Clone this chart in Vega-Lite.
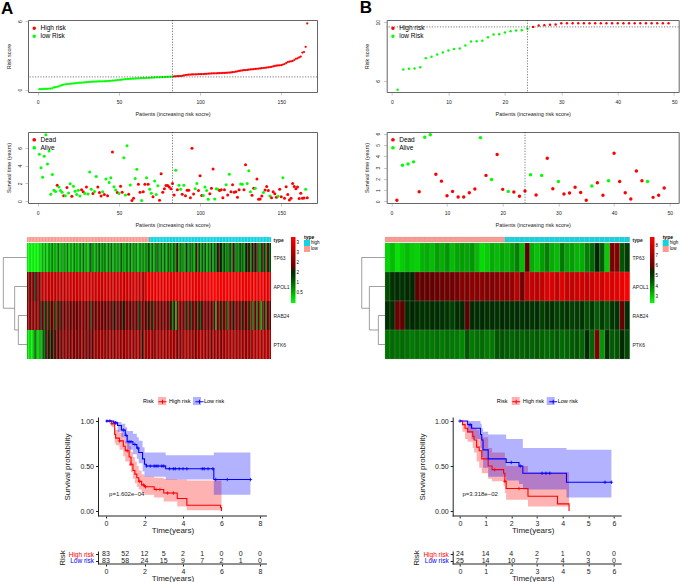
{"$schema":"https://vega.github.io/schema/vega-lite/v6.json","autosize":"none","padding":{"left":28,"top":20,"right":652,"bottom":562},"resolve":{"scale":{"color":"independent","fill":"independent","stroke":"independent"},"legend":{"color":"independent","fill":"independent","stroke":"independent"}},"config":{"font":"Liberation Sans","view":{"stroke":null},"axis":{"grid":false,"labelOverlap":false,"labelFont":"Liberation Sans","titleFont":"Liberation Sans","titleFontWeight":"normal","labelColor":"#222","titleColor":"#222"},"legend":{"labelFont":"Liberation Sans","titleFont":"Liberation Sans"}},
"datasets":{
"one":[{"v":1}],
"hA":[{"r":1.12}],
"hB":[{"r":9.68}],
"A":[
{"i":1,"r":0.05,"t":5.3,"s":"A","g":"L","TP63":0.1,"APOL1":2,"RAB24":2.2,"PTK6":0.3},{"i":2,"r":0.05,"t":3.77,"s":"A","g":"L","TP63":0.1,"APOL1":2.1,"RAB24":2.2,"PTK6":0.2},{"i":3,"r":0.06,"t":2.7,"s":"A","g":"L","TP63":0.1,"APOL1":2.1,"RAB24":2.2,"PTK6":0.2},{"i":4,"r":0.07,"t":5.07,"s":"A","g":"L","TP63":0.1,"APOL1":2,"RAB24":2.2,"PTK6":0.2},{"i":5,"r":0.07,"t":7.5,"s":"A","g":"L","TP63":0.1,"APOL1":2.1,"RAB24":2.2,"PTK6":0.3},{"i":6,"r":0.08,"t":4.2,"s":"A","g":"L","TP63":0.1,"APOL1":1.6,"RAB24":2.2,"PTK6":1.3},{"i":7,"r":0.09,"t":5.67,"s":"A","g":"L","TP63":0.1,"APOL1":2.2,"RAB24":2.2,"PTK6":0.4},{"i":8,"r":0.1,"t":0.8,"s":"A","g":"L","TP63":0.1,"APOL1":1.7,"RAB24":2.1,"PTK6":0.5},
{"i":9,"r":0.12,"t":3,"s":"A","g":"L","TP63":0.2,"APOL1":2.2,"RAB24":2.2,"PTK6":0.4},{"i":10,"r":0.2,"t":1.23,"s":"A","g":"L","TP63":0.3,"APOL1":2.3,"RAB24":1.6,"PTK6":0.7},{"i":11,"r":0.22,"t":1.1,"s":"A","g":"L","TP63":0.5,"APOL1":2.7,"RAB24":1.8,"PTK6":0.6},{"i":12,"r":0.25,"t":1.8,"s":"D","g":"L","TP63":0.4,"APOL1":2.8,"RAB24":1.9,"PTK6":1.5},{"i":13,"r":0.3,"t":1.6,"s":"A","g":"L","TP63":0.6,"APOL1":2.7,"RAB24":1.3,"PTK6":1.2},{"i":14,"r":0.35,"t":1.2,"s":"A","g":"L","TP63":0.3,"APOL1":2.8,"RAB24":1.8,"PTK6":1.7},{"i":15,"r":0.4,"t":1,"s":"A","g":"L","TP63":0.5,"APOL1":2.7,"RAB24":1.2,"PTK6":1.5},{"i":16,"r":0.45,"t":0.63,"s":"D","g":"L","TP63":0.7,"APOL1":2.6,"RAB24":1.9,"PTK6":1.9},
{"i":17,"r":0.47,"t":0.63,"s":"A","g":"L","TP63":0.6,"APOL1":2.8,"RAB24":1.7,"PTK6":1.6},{"i":18,"r":0.49,"t":1.55,"s":"D","g":"L","TP63":0.8,"APOL1":2.7,"RAB24":1.9,"PTK6":1.8},{"i":19,"r":0.5,"t":0.93,"s":"A","g":"L","TP63":0.6,"APOL1":2.8,"RAB24":1.9,"PTK6":1.5},{"i":20,"r":0.52,"t":1.97,"s":"A","g":"L","TP63":0.5,"APOL1":2.7,"RAB24":1,"PTK6":1.9},{"i":21,"r":0.54,"t":0.56,"s":"D","g":"L","TP63":0.7,"APOL1":2.6,"RAB24":1.8,"PTK6":2},{"i":22,"r":0.55,"t":1.7,"s":"A","g":"L","TP63":0.9,"APOL1":2.8,"RAB24":1.9,"PTK6":1.7},{"i":23,"r":0.56,"t":1.12,"s":"A","g":"L","TP63":0.6,"APOL1":2.6,"RAB24":1.6,"PTK6":1.9},{"i":24,"r":0.58,"t":0.75,"s":"A","g":"L","TP63":0.5,"APOL1":2.7,"RAB24":1.9,"PTK6":2.1},
{"i":25,"r":0.6,"t":1.23,"s":"A","g":"L","TP63":0.8,"APOL1":2.8,"RAB24":2,"PTK6":1.9},{"i":26,"r":0.61,"t":0.6,"s":"A","g":"L","TP63":0.6,"APOL1":2.6,"RAB24":1.8,"PTK6":2.3},{"i":27,"r":0.62,"t":1.3,"s":"D","g":"L","TP63":0.7,"APOL1":2.7,"RAB24":1.9,"PTK6":2},{"i":28,"r":0.63,"t":1.08,"s":"D","g":"L","TP63":0.9,"APOL1":2.8,"RAB24":2.1,"PTK6":2.2},{"i":29,"r":0.64,"t":0.86,"s":"A","g":"L","TP63":0.5,"APOL1":2.7,"RAB24":1.9,"PTK6":2},{"i":30,"r":0.66,"t":1.6,"s":"D","g":"L","TP63":0.6,"APOL1":2.8,"RAB24":1.7,"PTK6":1.9},{"i":31,"r":0.67,"t":0.82,"s":"A","g":"L","TP63":0.7,"APOL1":2.9,"RAB24":2,"PTK6":2.4},{"i":32,"r":0.68,"t":3.3,"s":"A","g":"L","TP63":0.5,"APOL1":2.7,"RAB24":1.9,"PTK6":2},
{"i":33,"r":0.69,"t":1.35,"s":"A","g":"L","TP63":0.9,"APOL1":2.8,"RAB24":2,"PTK6":1.9},{"i":34,"r":0.7,"t":0.86,"s":"D","g":"L","TP63":0.6,"APOL1":2.9,"RAB24":1.8,"PTK6":2.3},{"i":35,"r":0.7,"t":1.1,"s":"A","g":"L","TP63":0.5,"APOL1":2.8,"RAB24":2,"PTK6":2},{"i":36,"r":0.71,"t":2.8,"s":"A","g":"L","TP63":0.7,"APOL1":2.7,"RAB24":1.9,"PTK6":1.9},{"i":37,"r":0.72,"t":1.6,"s":"D","g":"L","TP63":0.8,"APOL1":2.9,"RAB24":2.1,"PTK6":2.1},{"i":38,"r":0.72,"t":0.97,"s":"D","g":"L","TP63":0.6,"APOL1":2.8,"RAB24":2.2,"PTK6":2.4},{"i":39,"r":0.73,"t":0.6,"s":"D","g":"L","TP63":1,"APOL1":2.7,"RAB24":2,"PTK6":2},{"i":40,"r":0.73,"t":1.08,"s":"A","g":"L","TP63":0.7,"APOL1":2.9,"RAB24":1.8,"PTK6":1.9},
{"i":41,"r":0.74,"t":0.75,"s":"D","g":"L","TP63":0.6,"APOL1":2.8,"RAB24":1.9,"PTK6":2.2},{"i":42,"r":0.75,"t":2.5,"s":"A","g":"L","TP63":0.5,"APOL1":2.9,"RAB24":2.1,"PTK6":1.8},{"i":43,"r":0.76,"t":0.63,"s":"D","g":"L","TP63":0.7,"APOL1":2.7,"RAB24":2,"PTK6":2},{"i":44,"r":0.77,"t":2.1,"s":"A","g":"L","TP63":1.5,"APOL1":2.8,"RAB24":1.3,"PTK6":1.9},{"i":45,"r":0.78,"t":2.65,"s":"A","g":"L","TP63":0.6,"APOL1":2.9,"RAB24":1.9,"PTK6":1.7},{"i":46,"r":0.79,"t":5.55,"s":"D","g":"L","TP63":0.8,"APOL1":2.7,"RAB24":2,"PTK6":2.1},{"i":47,"r":0.8,"t":1.64,"s":"A","g":"L","TP63":0.5,"APOL1":2.8,"RAB24":1.8,"PTK6":2.4},{"i":48,"r":0.82,"t":1.27,"s":"A","g":"L","TP63":0.9,"APOL1":2.9,"RAB24":1.9,"PTK6":2.2},
{"i":49,"r":0.84,"t":0.97,"s":"D","g":"L","TP63":0.7,"APOL1":2.8,"RAB24":2.1,"PTK6":2.3},{"i":50,"r":0.85,"t":0.86,"s":"A","g":"L","TP63":1.1,"APOL1":2.9,"RAB24":1.9,"PTK6":2.4},{"i":51,"r":0.87,"t":1.7,"s":"D","g":"L","TP63":0.6,"APOL1":2.7,"RAB24":2,"PTK6":2.5},{"i":52,"r":0.89,"t":1,"s":"D","g":"L","TP63":0.8,"APOL1":2.8,"RAB24":1.8,"PTK6":2.3},{"i":53,"r":0.91,"t":4.9,"s":"A","g":"L","TP63":1,"APOL1":2.9,"RAB24":1.9,"PTK6":2.2},{"i":54,"r":0.92,"t":0.7,"s":"A","g":"L","TP63":0.7,"APOL1":2.8,"RAB24":1.7,"PTK6":2.4},{"i":55,"r":0.93,"t":6.25,"s":"A","g":"L","TP63":0.6,"APOL1":2.9,"RAB24":2,"PTK6":2.1},{"i":56,"r":0.94,"t":0.78,"s":"D","g":"L","TP63":0.9,"APOL1":2.7,"RAB24":1.8,"PTK6":2.3},
{"i":57,"r":0.95,"t":1.83,"s":"A","g":"L","TP63":0.8,"APOL1":2.9,"RAB24":1.7,"PTK6":2.5},{"i":58,"r":0.96,"t":0.07,"s":"D","g":"L","TP63":1,"APOL1":2.8,"RAB24":1.9,"PTK6":2.2},{"i":59,"r":0.97,"t":0.33,"s":"D","g":"L","TP63":0.6,"APOL1":2.9,"RAB24":1.8,"PTK6":2.4},{"i":60,"r":0.98,"t":2.57,"s":"A","g":"L","TP63":0.7,"APOL1":2.7,"RAB24":1.6,"PTK6":2},{"i":61,"r":0.99,"t":3.6,"s":"A","g":"L","TP63":0.9,"APOL1":2.8,"RAB24":1.9,"PTK6":2.3},{"i":62,"r":1,"t":1.9,"s":"D","g":"L","TP63":0.6,"APOL1":2.9,"RAB24":2,"PTK6":2.5},{"i":63,"r":1,"t":1,"s":"D","g":"L","TP63":0.8,"APOL1":2.8,"RAB24":1.8,"PTK6":2.4},{"i":64,"r":1.01,"t":0.07,"s":"A","g":"L","TP63":0.7,"APOL1":2.9,"RAB24":1.7,"PTK6":2.2},
{"i":65,"r":1.02,"t":1.08,"s":"D","g":"L","TP63":1.3,"APOL1":2.8,"RAB24":1.8,"PTK6":2.5},{"i":66,"r":1.02,"t":1.9,"s":"D","g":"L","TP63":0.6,"APOL1":2.9,"RAB24":1.6,"PTK6":2.3},{"i":67,"r":1.03,"t":2.65,"s":"A","g":"L","TP63":0.5,"APOL1":2.7,"RAB24":1.7,"PTK6":2.1},{"i":68,"r":1.04,"t":1.9,"s":"D","g":"L","TP63":1,"APOL1":2.9,"RAB24":1.9,"PTK6":2.4},{"i":69,"r":1.04,"t":1.35,"s":"A","g":"L","TP63":0.8,"APOL1":2.8,"RAB24":2,"PTK6":2.6},{"i":70,"r":1.05,"t":0.9,"s":"A","g":"L","TP63":0.7,"APOL1":2.9,"RAB24":1.8,"PTK6":2.2},{"i":71,"r":1.06,"t":0.5,"s":"D","g":"L","TP63":1.1,"APOL1":2.8,"RAB24":1.7,"PTK6":2.4},{"i":72,"r":1.07,"t":2.28,"s":"A","g":"L","TP63":0.6,"APOL1":2.7,"RAB24":1.9,"PTK6":2.5},
{"i":73,"r":1.08,"t":0.75,"s":"A","g":"L","TP63":0.7,"APOL1":2.9,"RAB24":2,"PTK6":2.3},{"i":74,"r":1.09,"t":1.75,"s":"A","g":"L","TP63":0.9,"APOL1":2.8,"RAB24":1.8,"PTK6":2.1},{"i":75,"r":1.09,"t":0.1,"s":"D","g":"L","TP63":0.8,"APOL1":2.9,"RAB24":1.9,"PTK6":2.4},{"i":76,"r":1.1,"t":3.1,"s":"D","g":"L","TP63":0.5,"APOL1":2.8,"RAB24":1.7,"PTK6":2.6},{"i":77,"r":1.1,"t":1,"s":"D","g":"L","TP63":0.7,"APOL1":2.7,"RAB24":1.3,"PTK6":2.2},{"i":78,"r":1.11,"t":1.4,"s":"D","g":"L","TP63":1,"APOL1":2.9,"RAB24":1.8,"PTK6":2.4},{"i":79,"r":1.12,"t":1.78,"s":"D","g":"L","TP63":0.6,"APOL1":2.8,"RAB24":1.9,"PTK6":1.6},{"i":80,"r":1.12,"t":1.78,"s":"D","g":"L","TP63":0.9,"APOL1":1.9,"RAB24":2,"PTK6":2.3},
{"i":81,"r":1.13,"t":1.6,"s":"D","g":"L","TP63":0.7,"APOL1":3,"RAB24":1.7,"PTK6":2.5},{"i":82,"r":1.14,"t":1.4,"s":"D","g":"L","TP63":0.8,"APOL1":3,"RAB24":1.9,"PTK6":2.2},{"i":83,"r":1.15,"t":2,"s":"D","g":"L","TP63":1.2,"APOL1":3.1,"RAB24":1.5,"PTK6":2.4},{"i":84,"r":1.16,"t":0.7,"s":"D","g":"H","TP63":0.9,"APOL1":3,"RAB24":2,"PTK6":2.5},{"i":85,"r":1.17,"t":3.5,"s":"A","g":"H","TP63":0.7,"APOL1":3.1,"RAB24":1.8,"PTK6":2.6},{"i":86,"r":1.18,"t":1.3,"s":"D","g":"H","TP63":1,"APOL1":3,"RAB24":1.3,"PTK6":2.3},{"i":87,"r":1.19,"t":1.8,"s":"A","g":"H","TP63":0.6,"APOL1":3.1,"RAB24":1.9,"PTK6":1.7},{"i":88,"r":1.2,"t":1.35,"s":"A","g":"H","TP63":0.8,"APOL1":3,"RAB24":2.1,"PTK6":2.6},
{"i":89,"r":1.22,"t":0.8,"s":"D","g":"H","TP63":1.3,"APOL1":3.1,"RAB24":2,"PTK6":2.4},{"i":90,"r":1.25,"t":1.8,"s":"A","g":"H","TP63":0.7,"APOL1":3,"RAB24":1.9,"PTK6":2.5},{"i":91,"r":1.28,"t":0.63,"s":"D","g":"H","TP63":0.9,"APOL1":3.1,"RAB24":2,"PTK6":2.3},{"i":92,"r":1.3,"t":1.25,"s":"D","g":"H","TP63":1,"APOL1":3,"RAB24":1.8,"PTK6":2.4},{"i":93,"r":1.32,"t":1.25,"s":"D","g":"H","TP63":0.6,"APOL1":3.1,"RAB24":2,"PTK6":2.6},{"i":94,"r":1.33,"t":0.4,"s":"D","g":"H","TP63":1.1,"APOL1":3,"RAB24":1.9,"PTK6":2.2},{"i":95,"r":1.34,"t":5.97,"s":"D","g":"H","TP63":0.8,"APOL1":3.1,"RAB24":2.1,"PTK6":2.5},{"i":96,"r":1.34,"t":0.82,"s":"D","g":"H","TP63":0.7,"APOL1":3,"RAB24":1.9,"PTK6":2.3},
{"i":97,"r":1.35,"t":1.4,"s":"A","g":"H","TP63":1.2,"APOL1":3.1,"RAB24":1.7,"PTK6":2.5},{"i":98,"r":1.35,"t":2,"s":"A","g":"H","TP63":0.9,"APOL1":3,"RAB24":1.8,"PTK6":2.4},{"i":99,"r":1.36,"t":1.2,"s":"D","g":"H","TP63":0.6,"APOL1":2.9,"RAB24":1.4,"PTK6":2.6},{"i":100,"r":1.36,"t":2.87,"s":"D","g":"H","TP63":1,"APOL1":3,"RAB24":1,"PTK6":2.3},{"i":101,"r":1.37,"t":0.65,"s":"D","g":"H","TP63":0.8,"APOL1":3.1,"RAB24":1.7,"PTK6":2.5},{"i":102,"r":1.37,"t":0.65,"s":"A","g":"H","TP63":1.2,"APOL1":3,"RAB24":0.5,"PTK6":2.4},{"i":103,"r":1.38,"t":1.6,"s":"A","g":"H","TP63":1.7,"APOL1":3.1,"RAB24":1.9,"PTK6":1.7},{"i":104,"r":1.39,"t":1.2,"s":"A","g":"H","TP63":0.7,"APOL1":2.9,"RAB24":2.1,"PTK6":2.4},
{"i":105,"r":1.4,"t":0.22,"s":"A","g":"H","TP63":0.9,"APOL1":3,"RAB24":2,"PTK6":2.3},{"i":106,"r":1.41,"t":0.85,"s":"D","g":"H","TP63":1.1,"APOL1":3.1,"RAB24":1.9,"PTK6":2},{"i":107,"r":1.42,"t":1.45,"s":"D","g":"H","TP63":0.6,"APOL1":3,"RAB24":2.1,"PTK6":2.5},{"i":108,"r":1.43,"t":3.62,"s":"D","g":"H","TP63":0.8,"APOL1":3.1,"RAB24":1.8,"PTK6":2.3},{"i":109,"r":1.43,"t":0.25,"s":"A","g":"H","TP63":1.4,"APOL1":3,"RAB24":1.3,"PTK6":2.6},{"i":110,"r":1.44,"t":1.4,"s":"A","g":"H","TP63":1,"APOL1":3.1,"RAB24":1.9,"PTK6":2.4},{"i":111,"r":1.45,"t":1.35,"s":"A","g":"H","TP63":0.7,"APOL1":3,"RAB24":2,"PTK6":2.5},{"i":112,"r":1.45,"t":1.2,"s":"D","g":"H","TP63":1.2,"APOL1":3.1,"RAB24":1.5,"PTK6":2.2},
{"i":113,"r":1.46,"t":1.3,"s":"D","g":"H","TP63":0.9,"APOL1":3,"RAB24":1.9,"PTK6":2.4},{"i":114,"r":1.47,"t":0.4,"s":"D","g":"H","TP63":0.6,"APOL1":3.1,"RAB24":1.7,"PTK6":2.5},{"i":115,"r":1.47,"t":1.3,"s":"D","g":"H","TP63":1,"APOL1":3,"RAB24":2,"PTK6":1.8},{"i":116,"r":1.48,"t":1.85,"s":"A","g":"H","TP63":1.7,"APOL1":3.1,"RAB24":1.8,"PTK6":2.4},{"i":117,"r":1.49,"t":0.7,"s":"D","g":"H","TP63":0.8,"APOL1":3,"RAB24":1.2,"PTK6":2.3},{"i":118,"r":1.5,"t":3.05,"s":"A","g":"H","TP63":1.3,"APOL1":3.1,"RAB24":1.9,"PTK6":2.5},{"i":119,"r":1.51,"t":1.08,"s":"D","g":"H","TP63":0.7,"APOL1":3,"RAB24":1.6,"PTK6":2.6},{"i":120,"r":1.53,"t":1.85,"s":"D","g":"H","TP63":1.1,"APOL1":3.1,"RAB24":2,"PTK6":2.4},
{"i":121,"r":1.55,"t":1,"s":"D","g":"H","TP63":0.9,"APOL1":3,"RAB24":1.9,"PTK6":2.5},{"i":122,"r":1.58,"t":1.08,"s":"D","g":"H","TP63":1.2,"APOL1":3.1,"RAB24":2.1,"PTK6":2.2},{"i":123,"r":1.61,"t":0.44,"s":"D","g":"H","TP63":0.6,"APOL1":3,"RAB24":1.8,"PTK6":2.5},{"i":124,"r":1.64,"t":1.3,"s":"D","g":"H","TP63":1,"APOL1":3.2,"RAB24":1.9,"PTK6":2.3},{"i":125,"r":1.67,"t":1.95,"s":"A","g":"H","TP63":0.8,"APOL1":3.1,"RAB24":2,"PTK6":2.4},{"i":126,"r":1.69,"t":1.9,"s":"A","g":"H","TP63":1.3,"APOL1":3.2,"RAB24":1.7,"PTK6":1.8},{"i":127,"r":1.71,"t":1.3,"s":"D","g":"H","TP63":0.7,"APOL1":3.1,"RAB24":1.8,"PTK6":2.4},{"i":128,"r":1.72,"t":4.1,"s":"D","g":"H","TP63":1.1,"APOL1":3.3,"RAB24":1.9,"PTK6":2.3},
{"i":129,"r":1.73,"t":2,"s":"A","g":"H","TP63":0.9,"APOL1":3.2,"RAB24":0.6,"PTK6":2.5},{"i":130,"r":1.75,"t":3.43,"s":"A","g":"H","TP63":1.6,"APOL1":3.3,"RAB24":1.9,"PTK6":2.2},{"i":131,"r":1.77,"t":1.08,"s":"A","g":"H","TP63":1.7,"APOL1":3.1,"RAB24":2,"PTK6":2.4},{"i":132,"r":1.78,"t":0.67,"s":"D","g":"H","TP63":1.6,"APOL1":3.2,"RAB24":1.8,"PTK6":2.5},{"i":133,"r":1.8,"t":1.47,"s":"D","g":"H","TP63":1.4,"APOL1":3.3,"RAB24":1.2,"PTK6":1.8},{"i":134,"r":1.82,"t":1.45,"s":"A","g":"H","TP63":0.9,"APOL1":3.1,"RAB24":1.9,"PTK6":2.5},{"i":135,"r":1.83,"t":2.5,"s":"D","g":"H","TP63":1.2,"APOL1":3.2,"RAB24":2,"PTK6":2.3},{"i":136,"r":1.85,"t":0.22,"s":"D","g":"H","TP63":1,"APOL1":3.1,"RAB24":1.8,"PTK6":2.4},
{"i":137,"r":1.86,"t":0.26,"s":"D","g":"H","TP63":0.7,"APOL1":3.2,"RAB24":0.8,"PTK6":2.6},{"i":138,"r":1.88,"t":0.6,"s":"D","g":"H","TP63":1.3,"APOL1":3.1,"RAB24":1.9,"PTK6":2.3},{"i":139,"r":1.9,"t":0.97,"s":"A","g":"H","TP63":1.1,"APOL1":3,"RAB24":2,"PTK6":2.5},{"i":140,"r":1.92,"t":1.27,"s":"D","g":"H","TP63":0.9,"APOL1":3.2,"RAB24":1.9,"PTK6":2.4},{"i":141,"r":1.94,"t":1.67,"s":"D","g":"H","TP63":1.7,"APOL1":3.1,"RAB24":1.5,"PTK6":2.6},{"i":142,"r":1.96,"t":1.2,"s":"D","g":"H","TP63":1.3,"APOL1":3,"RAB24":1.9,"PTK6":2.3},{"i":143,"r":1.98,"t":0.6,"s":"A","g":"H","TP63":0.7,"APOL1":3.2,"RAB24":2.1,"PTK6":2.5},{"i":144,"r":2,"t":0.4,"s":"D","g":"H","TP63":1.1,"APOL1":3.1,"RAB24":1.8,"PTK6":2.2},
{"i":145,"r":2.04,"t":1.08,"s":"D","g":"H","TP63":0.9,"APOL1":3,"RAB24":2,"PTK6":2.5},{"i":146,"r":2.08,"t":0.85,"s":"D","g":"H","TP63":1.4,"APOL1":3.2,"RAB24":1.9,"PTK6":2.4},{"i":147,"r":2.1,"t":0.45,"s":"D","g":"H","TP63":1,"APOL1":3.1,"RAB24":1.4,"PTK6":2.3},{"i":148,"r":2.12,"t":0.56,"s":"A","g":"H","TP63":0.8,"APOL1":3,"RAB24":2,"PTK6":2.5},{"i":149,"r":2.13,"t":1.35,"s":"D","g":"H","TP63":1.2,"APOL1":3.2,"RAB24":1.8,"PTK6":2.4},{"i":150,"r":2.15,"t":0.5,"s":"D","g":"H","TP63":1.6,"APOL1":3.1,"RAB24":1.9,"PTK6":2.2},{"i":151,"r":2.2,"t":2.65,"s":"A","g":"H","TP63":1.7,"APOL1":3,"RAB24":2,"PTK6":2.5},{"i":152,"r":2.25,"t":0.33,"s":"D","g":"H","TP63":1.4,"APOL1":3.2,"RAB24":1.3,"PTK6":2.4},
{"i":153,"r":2.33,"t":1.64,"s":"D","g":"H","TP63":0.9,"APOL1":3.1,"RAB24":1.9,"PTK6":2},{"i":154,"r":2.42,"t":0.75,"s":"D","g":"H","TP63":1.6,"APOL1":3,"RAB24":0.7,"PTK6":2.6},{"i":155,"r":2.45,"t":0.15,"s":"D","g":"H","TP63":1.8,"APOL1":3.2,"RAB24":2,"PTK6":2.5},{"i":156,"r":2.48,"t":0.33,"s":"D","g":"H","TP63":1.5,"APOL1":3.1,"RAB24":1.8,"PTK6":2.5},{"i":157,"r":2.52,"t":2,"s":"D","g":"H","TP63":1.7,"APOL1":3,"RAB24":1,"PTK6":2.6},{"i":158,"r":2.6,"t":1.67,"s":"D","g":"H","TP63":0.8,"APOL1":3.1,"RAB24":1.9,"PTK6":2.5},{"i":159,"r":2.7,"t":1.4,"s":"D","g":"H","TP63":1,"APOL1":3,"RAB24":2,"PTK6":2.6},{"i":160,"r":2.75,"t":1.6,"s":"D","g":"H","TP63":1.2,"APOL1":3.2,"RAB24":0.4,"PTK6":2.5},
{"i":161,"r":2.82,"t":0.3,"s":"D","g":"H","TP63":1.7,"APOL1":3.1,"RAB24":1.7,"PTK6":2.5},{"i":162,"r":2.9,"t":0.9,"s":"D","g":"H","TP63":1.3,"APOL1":3,"RAB24":1.9,"PTK6":2.6},{"i":163,"r":3.25,"t":0.33,"s":"D","g":"H","TP63":0.9,"APOL1":3.1,"RAB24":0.9,"PTK6":2.5},{"i":164,"r":3.3,"t":0.37,"s":"D","g":"H","TP63":2,"APOL1":3,"RAB24":1.8,"PTK6":2.6},{"i":165,"r":3.75,"t":1.35,"s":"A","g":"H","TP63":1.6,"APOL1":3.1,"RAB24":1.9,"PTK6":2.5},{"i":166,"r":5.8,"t":0.4,"s":"D","g":"H","TP63":1.2,"APOL1":3,"RAB24":1.7,"PTK6":2.6}],
"B":[
{"i":1,"r":5.39,"t":0.09,"s":"D","g":"L","TP63":2.9,"APOL1":4.7,"RAB24":5.3,"PTK6":4.2},{"i":2,"r":6.77,"t":3.2,"s":"A","g":"L","TP63":3.2,"APOL1":5.2,"RAB24":5.3,"PTK6":4.3},{"i":3,"r":6.82,"t":3.32,"s":"A","g":"L","TP63":2.7,"APOL1":5.3,"RAB24":6.1,"PTK6":4.2},{"i":4,"r":6.84,"t":3.5,"s":"A","g":"L","TP63":3,"APOL1":5.2,"RAB24":5.8,"PTK6":4.3},{"i":5,"r":6.93,"t":0.85,"s":"D","g":"L","TP63":3.2,"APOL1":5.4,"RAB24":5.3,"PTK6":4.2},{"i":6,"r":7.55,"t":5.68,"s":"A","g":"L","TP63":3,"APOL1":5.5,"RAB24":5.5,"PTK6":4.1},{"i":7,"r":7.64,"t":5.9,"s":"A","g":"L","TP63":2.9,"APOL1":5.8,"RAB24":5.3,"PTK6":4.2},
{"i":8,"r":7.8,"t":2.41,"s":"D","g":"L","TP63":3.3,"APOL1":5.9,"RAB24":5.2,"PTK6":4.1},{"i":9,"r":7.93,"t":1.79,"s":"D","g":"L","TP63":3.4,"APOL1":5.9,"RAB24":5.2,"PTK6":4.2},{"i":10,"r":8.07,"t":0.5,"s":"D","g":"L","TP63":3.2,"APOL1":5.9,"RAB24":5.3,"PTK6":4.1},{"i":11,"r":8.18,"t":0.88,"s":"D","g":"L","TP63":3.6,"APOL1":6,"RAB24":5.3,"PTK6":4.2},{"i":12,"r":8.2,"t":0.38,"s":"D","g":"L","TP63":3.4,"APOL1":6.1,"RAB24":5.2,"PTK6":4.1},{"i":13,"r":8.41,"t":0.38,"s":"D","g":"L","TP63":3.7,"APOL1":6.1,"RAB24":5.1,"PTK6":4.2},{"i":14,"r":8.68,"t":0.76,"s":"D","g":"L","TP63":3.2,"APOL1":6.2,"RAB24":4.9,"PTK6":4.1},
{"i":15,"r":8.7,"t":1.09,"s":"D","g":"L","TP63":3.5,"APOL1":6.3,"RAB24":5.3,"PTK6":4.1},{"i":16,"r":8.73,"t":5.65,"s":"A","g":"L","TP63":3.6,"APOL1":6.6,"RAB24":5.4,"PTK6":3.9},{"i":17,"r":8.98,"t":2.3,"s":"D","g":"L","TP63":3.5,"APOL1":6.5,"RAB24":5.7,"PTK6":4.6},{"i":18,"r":9.16,"t":1.94,"s":"A","g":"L","TP63":3.7,"APOL1":6.7,"RAB24":5.4,"PTK6":4.1},{"i":19,"r":9.18,"t":4.15,"s":"D","g":"L","TP63":3.2,"APOL1":6.7,"RAB24":5.3,"PTK6":4.2},{"i":20,"r":9.3,"t":1.06,"s":"D","g":"L","TP63":2.8,"APOL1":6.7,"RAB24":5.4,"PTK6":4.3},{"i":21,"r":9.39,"t":0.88,"s":"A","g":"L","TP63":3,"APOL1":6.6,"RAB24":5.2,"PTK6":4.1},
{"i":22,"r":9.43,"t":0.82,"s":"D","g":"L","TP63":3.4,"APOL1":6.5,"RAB24":5.3,"PTK6":4.1},{"i":23,"r":9.45,"t":0.44,"s":"D","g":"L","TP63":3.2,"APOL1":6.7,"RAB24":5.2,"PTK6":4.6},{"i":24,"r":9.55,"t":0.91,"s":"D","g":"L","TP63":3.5,"APOL1":6.8,"RAB24":5.4,"PTK6":4.6},{"i":25,"r":9.68,"t":2.35,"s":"A","g":"H","TP63":3.3,"APOL1":6.8,"RAB24":5.3,"PTK6":4.5},{"i":26,"r":9.77,"t":0.56,"s":"D","g":"H","TP63":3.6,"APOL1":7,"RAB24":5.2,"PTK6":4.4},{"i":27,"r":9.8,"t":2.3,"s":"A","g":"H","TP63":4,"APOL1":7.6,"RAB24":5.3,"PTK6":4.5},{"i":28,"r":9.82,"t":3.82,"s":"D","g":"H","TP63":3.2,"APOL1":6.2,"RAB24":5.2,"PTK6":4.4},
{"i":29,"r":9.84,"t":1.12,"s":"D","g":"H","TP63":5.6,"APOL1":7.8,"RAB24":5.3,"PTK6":4.5},{"i":30,"r":9.93,"t":1.76,"s":"A","g":"H","TP63":3.4,"APOL1":7.8,"RAB24":5.1,"PTK6":4.4},{"i":31,"r":9.93,"t":0.65,"s":"D","g":"H","TP63":3.1,"APOL1":7.7,"RAB24":5.3,"PTK6":4.5},{"i":32,"r":9.93,"t":0.74,"s":"D","g":"H","TP63":3.6,"APOL1":7.8,"RAB24":4.9,"PTK6":4.4},{"i":33,"r":9.93,"t":1.24,"s":"D","g":"H","TP63":4,"APOL1":8.3,"RAB24":5.1,"PTK6":4.3},{"i":34,"r":9.93,"t":0.79,"s":"D","g":"H","TP63":3.4,"APOL1":8.2,"RAB24":5.2,"PTK6":4.4},{"i":35,"r":9.93,"t":0.09,"s":"D","g":"H","TP63":3.2,"APOL1":7.9,"RAB24":4.9,"PTK6":4.5},
{"i":36,"r":9.93,"t":1.35,"s":"A","g":"H","TP63":4.1,"APOL1":8.3,"RAB24":5,"PTK6":4.3},{"i":37,"r":9.93,"t":1.65,"s":"D","g":"H","TP63":3.5,"APOL1":7.9,"RAB24":5.1,"PTK6":4.4},{"i":38,"r":9.93,"t":0.53,"s":"D","g":"H","TP63":3.6,"APOL1":7.8,"RAB24":4.9,"PTK6":4.5},{"i":39,"r":9.93,"t":1.82,"s":"A","g":"H","TP63":3.3,"APOL1":8,"RAB24":5,"PTK6":4.6},{"i":40,"r":9.93,"t":4.26,"s":"D","g":"H","TP63":3.4,"APOL1":8,"RAB24":5.1,"PTK6":4.4},{"i":41,"r":9.93,"t":1.76,"s":"D","g":"H","TP63":4,"APOL1":7.9,"RAB24":4.7,"PTK6":5.4},{"i":42,"r":9.93,"t":0.76,"s":"D","g":"H","TP63":4.3,"APOL1":8,"RAB24":5,"PTK6":4.4},
{"i":43,"r":9.93,"t":0.2,"s":"D","g":"H","TP63":5.5,"APOL1":8.3,"RAB24":4.5,"PTK6":6.4},{"i":44,"r":9.93,"t":2.68,"s":"D","g":"H","TP63":4.5,"APOL1":8,"RAB24":5,"PTK6":3.7},{"i":45,"r":9.93,"t":1.82,"s":"D","g":"H","TP63":3,"APOL1":8.5,"RAB24":4.6,"PTK6":5.3},{"i":46,"r":9.93,"t":1.76,"s":"A","g":"H","TP63":6.4,"APOL1":8.2,"RAB24":5.1,"PTK6":4.5},{"i":47,"r":9.93,"t":0.35,"s":"D","g":"H","TP63":6.6,"APOL1":8.4,"RAB24":5.2,"PTK6":4.6},{"i":48,"r":9.93,"t":0.53,"s":"D","g":"H","TP63":4.6,"APOL1":8.5,"RAB24":5.9,"PTK6":5.4},{"i":49,"r":9.93,"t":1.18,"s":"D","g":"H","TP63":5,"APOL1":8.85,"RAB24":5.3,"PTK6":4.8}],
"kmA":[
{"Risk":"High risk","t":0,"S":1,"lo":1,"hi":1},{"Risk":"High risk","t":0.3,"S":0.97,"lo":0.93,"hi":1},{"Risk":"High risk","t":0.45,"S":0.85,"lo":0.76,"hi":0.92},{"Risk":"High risk","t":0.5,"S":0.81,"lo":0.73,"hi":0.9},{"Risk":"High risk","t":0.7,"S":0.78,"lo":0.68,"hi":0.87},{"Risk":"High risk","t":0.9,"S":0.72,"lo":0.61,"hi":0.82},{"Risk":"High risk","t":1,"S":0.67,"lo":0.55,"hi":0.78},{"Risk":"High risk","t":1.2,"S":0.6,"lo":0.5,"hi":0.72},{"Risk":"High risk","t":1.3,"S":0.52,"lo":0.43,"hi":0.66},{"Risk":"High risk","t":1.4,"S":0.45,"lo":0.36,"hi":0.6},{"Risk":"High risk","t":1.5,"S":0.41,"lo":0.31,"hi":0.55},{"Risk":"High risk","t":1.6,"S":0.37,"lo":0.27,"hi":0.5},{"Risk":"High risk","t":1.7,"S":0.33,"lo":0.24,"hi":0.45},{"Risk":"High risk","t":1.85,"S":0.29,"lo":0.2,"hi":0.41},{"Risk":"High risk","t":2,"S":0.27,"lo":0.18,"hi":0.385},{"Risk":"High risk","t":2.5,"S":0.24,"lo":0.15,"hi":0.37},{"Risk":"High risk","t":3,"S":0.2,"lo":0.105,"hi":0.355},{"Risk":"High risk","t":3.7,"S":0.14,"lo":0.05,"hi":0.35},{"Risk":"High risk","t":4.2,"S":0.065,"lo":0.01,"hi":0.34},{"Risk":"High risk","t":5.95,"S":0.04,"lo":0.005,"hi":0.34},{"Risk":"High risk","t":6,"S":0,"lo":0,"hi":0.34},
{"Risk":"Low risk","t":0,"S":1,"lo":1,"hi":1},{"Risk":"Low risk","t":0.4,"S":0.98,"lo":0.96,"hi":1},{"Risk":"Low risk","t":0.6,"S":0.95,"lo":0.88,"hi":0.99},{"Risk":"Low risk","t":0.8,"S":0.9,"lo":0.82,"hi":0.97},{"Risk":"Low risk","t":1,"S":0.84,"lo":0.75,"hi":0.93},{"Risk":"Low risk","t":1.1,"S":0.77,"lo":0.68,"hi":0.89},{"Risk":"Low risk","t":1.4,"S":0.74,"lo":0.63,"hi":0.86},{"Risk":"Low risk","t":1.6,"S":0.7,"lo":0.58,"hi":0.82},{"Risk":"Low risk","t":1.7,"S":0.65,"lo":0.53,"hi":0.78},{"Risk":"Low risk","t":1.9,"S":0.58,"lo":0.44,"hi":0.71},{"Risk":"Low risk","t":2,"S":0.52,"lo":0.38,"hi":0.65},{"Risk":"Low risk","t":2.1,"S":0.5,"lo":0.38,"hi":0.65},{"Risk":"Low risk","t":3.1,"S":0.47,"lo":0.35,"hi":0.62},{"Risk":"Low risk","t":5.6,"S":0.35,"lo":0.18,"hi":0.65},{"Risk":"Low risk","t":7.5,"S":0.35,"lo":0.18,"hi":0.65}],
"kmB":[
{"Risk":"High risk","t":0,"S":1,"lo":1,"hi":1},{"Risk":"High risk","t":0.1,"S":0.96,"lo":0.88,"hi":1},{"Risk":"High risk","t":0.2,"S":0.92,"lo":0.8,"hi":1},{"Risk":"High risk","t":0.3,"S":0.88,"lo":0.77,"hi":0.97},{"Risk":"High risk","t":0.5,"S":0.83,"lo":0.7,"hi":0.93},{"Risk":"High risk","t":0.55,"S":0.79,"lo":0.65,"hi":0.92},{"Risk":"High risk","t":0.65,"S":0.71,"lo":0.55,"hi":0.9},{"Risk":"High risk","t":0.75,"S":0.67,"lo":0.48,"hi":0.85},{"Risk":"High risk","t":0.85,"S":0.58,"lo":0.42,"hi":0.82},{"Risk":"High risk","t":1.1,"S":0.5,"lo":0.36,"hi":0.7},{"Risk":"High risk","t":1.25,"S":0.46,"lo":0.33,"hi":0.65},{"Risk":"High risk","t":1.7,"S":0.42,"lo":0.28,"hi":0.65},{"Risk":"High risk","t":1.75,"S":0.33,"lo":0.2,"hi":0.58},{"Risk":"High risk","t":1.8,"S":0.25,"lo":0.125,"hi":0.5},{"Risk":"High risk","t":2.65,"S":0.165,"lo":0.05,"hi":0.43},{"Risk":"High risk","t":3.8,"S":0.08,"lo":0.05,"hi":0.43},{"Risk":"High risk","t":4.25,"S":0,"lo":0,"hi":0.43},
{"Risk":"Low risk","t":0,"S":1,"lo":1,"hi":1},{"Risk":"Low risk","t":0.3,"S":0.96,"lo":0.87,"hi":1},{"Risk":"Low risk","t":0.45,"S":0.92,"lo":0.8,"hi":1},{"Risk":"Low risk","t":0.8,"S":0.85,"lo":0.7,"hi":0.97},{"Risk":"Low risk","t":0.85,"S":0.79,"lo":0.6,"hi":0.92},{"Risk":"Low risk","t":0.9,"S":0.68,"lo":0.48,"hi":0.88},{"Risk":"Low risk","t":1.1,"S":0.58,"lo":0.38,"hi":0.85},{"Risk":"Low risk","t":1.8,"S":0.54,"lo":0.34,"hi":0.8},{"Risk":"Low risk","t":2.3,"S":0.5,"lo":0.3,"hi":0.8},{"Risk":"Low risk","t":2.45,"S":0.42,"lo":0.24,"hi":0.7},{"Risk":"Low risk","t":4.15,"S":0.32,"lo":0.15,"hi":0.68},{"Risk":"Low risk","t":5.9,"S":0.32,"lo":0.15,"hi":0.68}],
"cA":[{"Risk":"High risk","t":0.3,"S":0.97},{"Risk":"High risk","t":0.7,"S":0.78},{"Risk":"High risk","t":1.1,"S":0.67},{"Risk":"High risk","t":1.3,"S":0.52},{"Risk":"High risk","t":1.75,"S":0.33},{"Risk":"High risk","t":1.95,"S":0.29},{"Risk":"High risk","t":2.05,"S":0.27},{"Risk":"High risk","t":2.6,"S":0.24},{"Risk":"High risk","t":2.8,"S":0.24},{"Risk":"High risk","t":3.2,"S":0.2},{"Risk":"High risk","t":3.5,"S":0.2},
{"Risk":"Low risk","t":0.05,"S":1},{"Risk":"Low risk","t":0.2,"S":1},{"Risk":"Low risk","t":0.5,"S":0.98},{"Risk":"Low risk","t":0.9,"S":0.9},{"Risk":"Low risk","t":1.05,"S":0.84},{"Risk":"Low risk","t":1.2,"S":0.77},{"Risk":"Low risk","t":1.3,"S":0.77},{"Risk":"Low risk","t":1.5,"S":0.74},{"Risk":"Low risk","t":1.65,"S":0.7},{"Risk":"Low risk","t":2.1,"S":0.5},{"Risk":"Low risk","t":2.3,"S":0.5},{"Risk":"Low risk","t":2.5,"S":0.5},{"Risk":"Low risk","t":2.6,"S":0.5},{"Risk":"Low risk","t":2.7,"S":0.5},{"Risk":"Low risk","t":2.9,"S":0.5},{"Risk":"Low risk","t":3,"S":0.5},{"Risk":"Low risk","t":3.3,"S":0.47},{"Risk":"Low risk","t":3.5,"S":0.47},{"Risk":"Low risk","t":3.6,"S":0.47},{"Risk":"Low risk","t":3.8,"S":0.47},{"Risk":"Low risk","t":4,"S":0.47},{"Risk":"Low risk","t":4.2,"S":0.47},{"Risk":"Low risk","t":5,"S":0.47},{"Risk":"Low risk","t":5.1,"S":0.47},{"Risk":"Low risk","t":5.3,"S":0.47},{"Risk":"Low risk","t":5.55,"S":0.47},{"Risk":"Low risk","t":5.7,"S":0.35},{"Risk":"Low risk","t":6.3,"S":0.35},{"Risk":"Low risk","t":7.5,"S":0.35}],
"cB":[{"Risk":"High risk","t":1.35,"S":0.46},{"Risk":"High risk","t":1.75,"S":0.33},{"Risk":"High risk","t":2.3,"S":0.25},{"Risk":"Low risk","t":0,"S":1},{"Risk":"Low risk","t":0.4,"S":0.96},{"Risk":"Low risk","t":2,"S":0.54},{"Risk":"Low risk","t":2.35,"S":0.5},{"Risk":"Low risk","t":3.2,"S":0.42},{"Risk":"Low risk","t":3.35,"S":0.42},{"Risk":"Low risk","t":3.5,"S":0.42},{"Risk":"Low risk","t":5.65,"S":0.32},{"Risk":"Low risk","t":5.9,"S":0.32}],
"dA":[{"x":-15.6,"x2":0.5,"y":0.5,"y2":0.5},{"x":-15.6,"x2":-15.6,"y":0.5,"y2":2.25},{"x":-15.6,"x2":-7.9,"y":2.25,"y2":2.25},{"x":-7.9,"x2":-7.9,"y":1.5,"y2":3},{"x":-7.9,"x2":0.5,"y":1.5,"y2":1.5},{"x":-7.9,"x2":-5.4,"y":3,"y2":3},{"x":-5.4,"x2":-5.4,"y":2.5,"y2":3.5},{"x":-5.4,"x2":0.5,"y":2.5,"y2":2.5},{"x":-5.4,"x2":0.5,"y":3.5,"y2":3.5}],
"dB":[{"x":-4.16,"x2":0.5,"y":0.5,"y2":0.5},{"x":-4.16,"x2":-4.16,"y":0.5,"y2":2.25},{"x":-4.16,"x2":-2.63,"y":2.25,"y2":2.25},{"x":-2.63,"x2":-2.63,"y":1.5,"y2":3},{"x":-2.63,"x2":0.5,"y":1.5,"y2":1.5},{"x":-2.63,"x2":-0.83,"y":3,"y2":3},{"x":-0.83,"x2":-0.83,"y":2.5,"y2":3.5},{"x":-0.83,"x2":0.5,"y":2.5,"y2":2.5},{"x":-0.83,"x2":0.5,"y":3.5,"y2":3.5}],
"nA":[{"Risk":"High risk","t":0,"n":83},{"Risk":"High risk","t":1,"n":52},{"Risk":"High risk","t":2,"n":12},{"Risk":"High risk","t":3,"n":5},{"Risk":"High risk","t":4,"n":2},{"Risk":"High risk","t":5,"n":1},{"Risk":"High risk","t":6,"n":0},{"Risk":"High risk","t":7,"n":0},{"Risk":"High risk","t":8,"n":0},{"Risk":"Low risk","t":0,"n":83},{"Risk":"Low risk","t":1,"n":58},{"Risk":"Low risk","t":2,"n":24},{"Risk":"Low risk","t":3,"n":15},{"Risk":"Low risk","t":4,"n":9},{"Risk":"Low risk","t":5,"n":7},{"Risk":"Low risk","t":6,"n":2},{"Risk":"Low risk","t":7,"n":1},{"Risk":"Low risk","t":8,"n":0}],
"nB":[{"Risk":"High risk","t":0,"n":24},{"Risk":"High risk","t":1,"n":14},{"Risk":"High risk","t":2,"n":4},{"Risk":"High risk","t":3,"n":2},{"Risk":"High risk","t":4,"n":1},{"Risk":"High risk","t":5,"n":0},{"Risk":"High risk","t":6,"n":0},{"Risk":"Low risk","t":0,"n":25},{"Risk":"Low risk","t":1,"n":14},{"Risk":"Low risk","t":2,"n":10},{"Risk":"Low risk","t":3,"n":7},{"Risk":"Low risk","t":4,"n":4},{"Risk":"Low risk","t":5,"n":3},{"Risk":"Low risk","t":6,"n":0}]
},
"columns":2,"bounds":"flush","spacing":{"row":0,"column":69.7},
"concat":[
{"width":289,"height":72,"title":{"text":"A","anchor":"start","frame":"group","fontSize":17,"fontWeight":"bold","dx":-27,"offset":2,"font":"Liberation Sans","color":"#000"},"view":{"stroke":"#666"},"layer":[
{"data":{"name":"A"},"mark":{"type":"point","filled":true,"size":5,"opacity":1},"encoding":{"x":{"field":"i","type":"quantitative","scale":{"domain":[-6,172],"nice":false},"axis":{"values":[0,50,100,150],"title":"Patients (increasing risk socre)","labelFontSize":5,"titleFontSize":5.5,"tickSize":3,"tickWidth":0.5,"domain":false,"labelPadding":4,"titlePadding":7}},"y":{"field":"r","type":"quantitative","scale":{"domain":[-0.2,6.1],"nice":false},"axis":{"values":[0,1,2,3,4,5,6],"labelOverlap":false,"title":"Risk score","labelFontSize":5,"titleFontSize":5.5,"tickSize":3,"tickWidth":0.5,"domain":false,"labelAngle":-90,"labelAlign":"center","labelBaseline":"bottom","labelPadding":3,"titlePadding":6}},"color":{"field":"g","type":"nominal","scale":{"domain":["H","L"],"range":["#ff0000","#00ff00"]},"legend":{"orient":"none","legendX":3,"legendY":5,"title":null,"labelExpr":"datum.label=='H'?'High risk':'low Risk'","labelFontSize":6.5,"symbolType":"circle","symbolSize":12,"rowPadding":1,"labelOffset":3}}}},
{"data":{"name":"one"},"mark":{"type":"rule","strokeDash":[1.2,1.5],"strokeWidth":0.6,"color":"#222"},"encoding":{"x":{"datum":83}}},
{"data":{"name":"hA"},"mark":{"type":"rule","strokeDash":[1.2,1.5],"strokeWidth":0.6,"color":"#222"},"encoding":{"y":{"field":"r","type":"quantitative"}}}]},
{"width":292,"height":72,"title":{"text":"B","anchor":"start","frame":"group","fontSize":17,"fontWeight":"bold","dx":-27,"offset":2,"font":"Liberation Sans","color":"#000"},"view":{"stroke":"#666"},"layer":[
{"data":{"name":"B"},"mark":{"type":"point","filled":true,"size":6,"opacity":1},"encoding":{"x":{"field":"i","type":"quantitative","scale":{"domain":[-0.94,50.8],"nice":false},"axis":{"values":[0,10,20,30,40,50],"title":"Patients (increasing risk score)","labelFontSize":5,"titleFontSize":5.5,"tickSize":3,"tickWidth":0.5,"domain":false,"labelPadding":4,"titlePadding":7}},"y":{"field":"r","type":"quantitative","scale":{"domain":[5.24,10.15],"nice":false},"axis":{"values":[6,7,8,9,10],"labelOverlap":false,"title":"Risk score","labelFontSize":5,"titleFontSize":5.5,"tickSize":3,"tickWidth":0.5,"domain":false,"labelAngle":-90,"labelAlign":"center","labelBaseline":"bottom","labelPadding":3,"titlePadding":6}},"color":{"field":"g","type":"nominal","scale":{"domain":["H","L"],"range":["#ff0000","#00ff00"]},"legend":{"orient":"none","legendX":3,"legendY":5,"title":null,"labelExpr":"datum.label=='H'?'High risk':'low Risk'","labelFontSize":6.5,"symbolType":"circle","symbolSize":12,"rowPadding":1,"labelOffset":3}}}},
{"data":{"name":"one"},"mark":{"type":"rule","strokeDash":[1.2,1.5],"strokeWidth":0.6,"color":"#222"},"encoding":{"x":{"datum":24}}},
{"data":{"name":"hB"},"mark":{"type":"rule","strokeDash":[1.2,1.5],"strokeWidth":0.6,"color":"#222"},"encoding":{"y":{"field":"r","type":"quantitative"}}}]},
{"width":289,"height":40,"data":{"name":"one"},"mark":{"type":"point","opacity":0},"encoding":{}},
{"width":292,"height":40,"data":{"name":"one"},"mark":{"type":"point","opacity":0},"encoding":{}},
{"width":289,"height":71,"view":{"stroke":"#666"},"layer":[
{"data":{"name":"A"},"mark":{"type":"point","filled":true,"size":9,"opacity":1},"encoding":{"x":{"field":"i","type":"quantitative","scale":{"domain":[-6,172],"nice":false},"axis":{"values":[0,50,100,150],"title":"Patients (increasing risk score)","labelFontSize":5,"titleFontSize":5.5,"tickSize":3,"tickWidth":0.5,"domain":false,"labelPadding":4,"titlePadding":7}},"y":{"field":"t","type":"quantitative","scale":{"domain":[-0.2,7.8],"nice":false},"axis":{"values":[0,2,4,6],"title":"Survival time (years)","labelFontSize":5,"titleFontSize":5.5,"tickSize":3,"tickWidth":0.5,"domain":false,"labelAngle":-90,"labelAlign":"center","labelBaseline":"bottom","labelPadding":3,"titlePadding":6}},"color":{"field":"s","type":"nominal","scale":{"domain":["D","A"],"range":["#ff0000","#00ff00"]},"legend":{"orient":"none","legendX":3,"legendY":4.5,"title":null,"labelExpr":"datum.label=='D'?'Dead':'Alive'","labelFontSize":6.5,"symbolType":"circle","symbolSize":14,"rowPadding":1,"labelOffset":3}}}},
{"data":{"name":"one"},"mark":{"type":"rule","strokeDash":[1.2,1.5],"strokeWidth":0.6,"color":"#222"},"encoding":{"x":{"datum":83}}}]},
{"width":292,"height":71,"view":{"stroke":"#666"},"layer":[
{"data":{"name":"B"},"mark":{"type":"point","filled":true,"size":12,"opacity":1},"encoding":{"x":{"field":"i","type":"quantitative","scale":{"domain":[-0.83,51.6],"nice":false},"axis":{"values":[0,10,20,30,40,50],"title":"Patients (increasing risk score)","labelFontSize":5,"titleFontSize":5.5,"tickSize":3,"tickWidth":0.5,"domain":false,"labelPadding":4,"titlePadding":7}},"y":{"field":"t","type":"quantitative","scale":{"domain":[-0.15,6.15],"nice":false},"axis":{"values":[0,1,2,3,4,5,6],"title":"Survival time (years)","labelFontSize":5,"titleFontSize":5.5,"tickSize":3,"tickWidth":0.5,"domain":false,"labelAngle":-90,"labelAlign":"center","labelBaseline":"bottom","labelPadding":3,"titlePadding":6}},"color":{"field":"s","type":"nominal","scale":{"domain":["D","A"],"range":["#ff0000","#00ff00"]},"legend":{"orient":"none","legendX":3,"legendY":4.5,"title":null,"labelExpr":"datum.label=='D'?'Dead':'Alive'","labelFontSize":6.5,"symbolType":"circle","symbolSize":14,"rowPadding":1,"labelOffset":3}}}},
{"data":{"name":"one"},"mark":{"type":"rule","strokeDash":[1.2,1.5],"strokeWidth":0.6,"color":"#222"},"encoding":{"x":{"datum":24}}}]},
{"width":289,"height":34,"data":{"name":"one"},"mark":{"type":"point","opacity":0},"encoding":{}},
{"width":292,"height":34,"data":{"name":"one"},"mark":{"type":"point","opacity":0},"encoding":{}},
{"width":289,"height":5,"data":{"name":"A"},"mark":{"type":"rect","width":1.5},"encoding":{"x":{"field":"i","type":"quantitative","scale":{"domain":[1.18,197.8],"nice":false},"axis":null},"y":{"datum":"type","type":"nominal","axis":{"orient":"right","offset":-46,"title":null,"domain":false,"ticks":false,"labelFontSize":5,"labelFontWeight":"bold","labelPadding":2}},"fill":{"field":"g","type":"nominal","scale":{"domain":["H","L"],"range":["#10d4e0","#fa9a92"]},"legend":{"orient":"none","legendX":276,"legendY":-2,"title":"type","titleFontSize":5,"titleFontWeight":"bold","titlePadding":0,"labelExpr":"datum.label=='H'?'high':'low'","labelFontSize":4.5,"symbolType":"square","symbolSize":36,"rowPadding":0,"labelOffset":1,"symbolStrokeWidth":0}}}},
{"width":292,"height":5,"data":{"name":"B"},"mark":{"type":"rect","width":5,"stroke":"#c8a0a0","strokeWidth":0.2},"encoding":{"x":{"field":"i","type":"quantitative","scale":{"domain":[0.84,59.3],"nice":false},"axis":null},"y":{"datum":"type","type":"nominal","axis":{"orient":"right","offset":-48.7,"title":null,"domain":false,"ticks":false,"labelFontSize":5,"labelFontWeight":"bold","labelPadding":2}},"fill":{"field":"g","type":"nominal","scale":{"domain":["H","L"],"range":["#10d4e0","#fa9a92"]},"legend":{"orient":"none","legendX":276,"legendY":-2,"title":"type","titleFontSize":5,"titleFontWeight":"bold","titlePadding":0,"labelExpr":"datum.label=='H'?'high':'low'","labelFontSize":4.5,"symbolType":"square","symbolSize":36,"rowPadding":0,"labelOffset":1,"symbolStrokeWidth":0}}}},
{"width":289,"height":1,"data":{"name":"one"},"mark":{"type":"point","opacity":0},"encoding":{}},
{"width":292,"height":1,"data":{"name":"one"},"mark":{"type":"point","opacity":0},"encoding":{}},
{"width":289,"height":116,"resolve":{"scale":{"y":"independent"}},"layer":[
{"data":{"name":"A"},"transform":[{"fold":["TP63","APOL1","RAB24","PTK6"],"as":["gene","v"]}],"mark":{"type":"rect","width":1.5},"encoding":{"x":{"field":"i","type":"quantitative","scale":{"domain":[1.18,197.8],"nice":false},"axis":null},"y":{"field":"gene","type":"nominal","sort":["TP63","APOL1","RAB24","PTK6"],"scale":{"domain":["TP63","APOL1","RAB24","PTK6"],"padding":0},"axis":{"orient":"right","offset":-46,"title":null,"domain":false,"ticks":false,"labelFontSize":5,"labelPadding":2}},"fill":{"field":"v","type":"quantitative","scale":{"domain":[0,1.65,3.3],"range":["#00ff00","#000000","#ff0000"]},"legend":{"orient":"none","legendX":263,"legendY":-6,"title":null,"gradientLength":66,"gradientThickness":4.5,"gradientStrokeWidth":0,"values":[0.5,1,1.5,2,2.5,3],"format":"~g","labelFontSize":4.5,"labelOffset":1}}}},
{"data":{"name":"dA"},"mark":{"type":"rule","color":"#777","strokeWidth":0.7},"encoding":{"x":{"field":"x","type":"quantitative"},"x2":{"field":"x2"},"y":{"field":"y","type":"quantitative","scale":{"domain":[0,4],"reverse":true,"nice":false},"axis":null},"y2":{"field":"y2"}}}]},
{"width":292,"height":116,"resolve":{"scale":{"y":"independent"}},"layer":[
{"data":{"name":"B"},"transform":[{"fold":["TP63","APOL1","RAB24","PTK6"],"as":["gene","v"]}],"mark":{"type":"rect","width":5,"stroke":"#888","strokeWidth":0.25},"encoding":{"x":{"field":"i","type":"quantitative","scale":{"domain":[0.84,59.3],"nice":false},"axis":null},"y":{"field":"gene","type":"nominal","sort":["TP63","APOL1","RAB24","PTK6"],"scale":{"domain":["TP63","APOL1","RAB24","PTK6"],"padding":0},"axis":{"orient":"right","offset":-48.7,"title":null,"domain":false,"ticks":false,"labelFontSize":5,"labelPadding":2}},"fill":{"field":"v","type":"quantitative","scale":{"domain":[2.4,5.6,8.85],"range":["#00ff00","#000000","#ff0000"]},"legend":{"orient":"none","legendX":263.3,"legendY":-6,"title":null,"gradientLength":66,"gradientThickness":4.5,"gradientStrokeWidth":0,"values":[3,4,5,6,7,8],"format":"~g","labelFontSize":4.5,"labelOffset":1}}}},
{"data":{"name":"dB"},"mark":{"type":"rule","color":"#777","strokeWidth":0.7},"encoding":{"x":{"field":"x","type":"quantitative"},"x2":{"field":"x2"},"y":{"field":"y","type":"quantitative","scale":{"domain":[0,4],"reverse":true,"nice":false},"axis":null},"y2":{"field":"y2"}}}]},
{"width":289,"height":58,"data":{"name":"one"},"mark":{"type":"point","opacity":0},"encoding":{}},
{"width":292,"height":58,"data":{"name":"one"},"mark":{"type":"point","opacity":0},"encoding":{}},
{"width":289,"height":99,"layer":[
{"data":{"name":"kmA"},"mark":{"type":"area","interpolate":"step-after","opacity":0.3},"encoding":{"x":{"field":"t","type":"quantitative","scale":{"domain":[-4.052,10.96],"nice":false},"axis":{"values":[0,1,2,3,4,5,6,7,8],"title":"Time(years)","labelFontSize":7,"titleFontSize":8,"domain":false,"tickSize":2,"tickColor":"#222","labelPadding":1,"titlePadding":0}},"y":{"field":"lo","type":"quantitative","scale":{"domain":[-0.055,1.045],"nice":false},"axis":{"values":[0,0.25,0.5,0.75,1],"format":".2f","title":"Survival probability","labelFontSize":7,"titleFontSize":8,"offset":-70,"domainColor":"#222","domainWidth":1,"tickSize":2.5,"tickColor":"#222","labelPadding":2,"titlePadding":8}},"y2":{"field":"hi"},"fill":{"field":"Risk","type":"nominal","scale":{"domain":["High risk","Low risk"],"range":["#ff0000","#0000ff"]},"legend":{"orient":"none","direction":"horizontal","legendX":115,"legendY":-20,"title":"Risk","titleOrient":"left","titleFontSize":5.5,"titleFontWeight":"normal","titlePadding":4,"labelFontSize":5.5,"symbolType":"square","symbolSize":64,"symbolOpacity":0.3,"symbolStrokeWidth":0,"columnPadding":2,"labelOffset":3}}}},
{"data":{"name":"kmA"},"mark":{"type":"line","interpolate":"step-after","strokeWidth":1.1},"encoding":{"x":{"field":"t","type":"quantitative"},"y":{"field":"S","type":"quantitative"},"stroke":{"field":"Risk","type":"nominal","scale":{"domain":["High risk","Low risk",""],"range":["#ff0000","#0000ff","transparent"]},"legend":{"orient":"none","direction":"horizontal","legendX":130,"legendY":-20,"title":null,"labelExpr":"''","labelFontSize":5.5,"symbolType":"M-1,0L1,0M0,-0.5L0,0.5","symbolSize":64,"symbolStrokeWidth":1,"columnPadding":23,"labelOffset":3}}}},
{"data":{"name":"cA"},"mark":{"type":"point","shape":"M-1,0L1,0M0,-1L0,1","filled":false,"size":12,"strokeWidth":0.8,"opacity":1},"encoding":{"x":{"field":"t","type":"quantitative"},"y":{"field":"S","type":"quantitative"},"stroke":{"field":"Risk","type":"nominal","legend":null}}},
{"data":{"name":"one"},"mark":{"type":"rule","color":"#222","strokeWidth":1},"encoding":{"x":{"datum":-0.4},"x2":{"datum":8.36},"y":{"datum":-0.055}}},
{"data":{"name":"one"},"mark":{"type":"text","align":"left","fontSize":6,"color":"#222"},"encoding":{"x":{"datum":0.16},"y":{"datum":0.19},"text":{"value":"p=1.602e−04"}}}]},
{"width":292,"height":99,"layer":[
{"data":{"name":"kmB"},"mark":{"type":"area","interpolate":"step-after","opacity":0.3},"encoding":{"x":{"field":"t","type":"quantitative","scale":{"domain":[-2.852,8.52],"nice":false},"axis":{"values":[0,1,2,3,4,5,6],"title":"Time(years)","labelFontSize":7,"titleFontSize":8,"domain":false,"tickSize":2,"tickColor":"#222","labelPadding":1,"titlePadding":0}},"y":{"field":"lo","type":"quantitative","scale":{"domain":[-0.055,1.045],"nice":false},"axis":{"values":[0,0.25,0.5,0.75,1],"format":".2f","title":"Survival probability","labelFontSize":7,"titleFontSize":8,"offset":-66,"domainColor":"#222","domainWidth":1,"tickSize":2.5,"tickColor":"#222","labelPadding":2,"titlePadding":8}},"y2":{"field":"hi"},"fill":{"field":"Risk","type":"nominal","scale":{"domain":["High risk","Low risk"],"range":["#ff0000","#0000ff"]},"legend":{"orient":"none","direction":"horizontal","legendX":110,"legendY":-20,"title":"Risk","titleOrient":"left","titleFontSize":5.5,"titleFontWeight":"normal","titlePadding":4,"labelFontSize":5.5,"symbolType":"square","symbolSize":64,"symbolOpacity":0.3,"symbolStrokeWidth":0,"columnPadding":2,"labelOffset":3}}}},
{"data":{"name":"kmB"},"mark":{"type":"line","interpolate":"step-after","strokeWidth":1.1},"encoding":{"x":{"field":"t","type":"quantitative"},"y":{"field":"S","type":"quantitative"},"stroke":{"field":"Risk","type":"nominal","scale":{"domain":["High risk","Low risk",""],"range":["#ff0000","#0000ff","transparent"]},"legend":{"orient":"none","direction":"horizontal","legendX":125,"legendY":-20,"title":null,"labelExpr":"''","labelFontSize":5.5,"symbolType":"M-1,0L1,0M0,-0.5L0,0.5","symbolSize":64,"symbolStrokeWidth":1,"columnPadding":23,"labelOffset":3}}}},
{"data":{"name":"cB"},"mark":{"type":"point","shape":"M-1,0L1,0M0,-1L0,1","filled":false,"size":12,"strokeWidth":0.8,"opacity":1},"encoding":{"x":{"field":"t","type":"quantitative"},"y":{"field":"S","type":"quantitative"},"stroke":{"field":"Risk","type":"nominal","legend":null}}},
{"data":{"name":"one"},"mark":{"type":"rule","color":"#222","strokeWidth":1},"encoding":{"x":{"datum":-0.285},"x2":{"datum":6.3},"y":{"datum":-0.055}}},
{"data":{"name":"one"},"mark":{"type":"text","align":"left","fontSize":6,"color":"#222"},"encoding":{"x":{"datum":0.1},"y":{"datum":0.19},"text":{"value":"p=3.318e−02"}}}]},
{"width":289,"height":35,"data":{"name":"one"},"mark":{"type":"point","opacity":0},"encoding":{}},
{"width":292,"height":35,"data":{"name":"one"},"mark":{"type":"point","opacity":0},"encoding":{}},
{"width":289,"height":13,"layer":[
{"data":{"name":"nA"},"mark":{"type":"text","fontSize":7,"color":"#222"},"encoding":{"x":{"field":"t","type":"quantitative","scale":{"domain":[-4.052,10.96],"nice":false},"axis":{"values":[0,1,2,3,4,5,6,7,8],"title":"Time(years)","labelFontSize":7,"titleFontSize":8,"domain":false,"tickSize":2,"tickColor":"#222","labelPadding":1,"titlePadding":0}},"y":{"field":"Risk","type":"nominal","scale":{"domain":["High risk","Low risk"]},"axis":{"title":"Risk","titleFontSize":8,"offset":-70,"domainColor":"#222","domainWidth":1,"tickSize":2.5,"tickColor":"#222","labelFontSize":6.5,"labelPadding":2,"titlePadding":2,"labelColor":{"expr":"datum.value=='High risk'?'#ff0000':'#0000ff'"}}},"text":{"field":"n","type":"quantitative"}}},
{"data":{"name":"one"},"mark":{"type":"rule","color":"#222","strokeWidth":1},"encoding":{"x":{"datum":-0.4},"x2":{"datum":8.36},"y":{"value":13}}}]},
{"width":292,"height":13,"layer":[
{"data":{"name":"nB"},"mark":{"type":"text","fontSize":7,"color":"#222"},"encoding":{"x":{"field":"t","type":"quantitative","scale":{"domain":[-2.852,8.52],"nice":false},"axis":{"values":[0,1,2,3,4,5,6],"title":"Time(years)","labelFontSize":7,"titleFontSize":8,"domain":false,"tickSize":2,"tickColor":"#222","labelPadding":1,"titlePadding":0}},"y":{"field":"Risk","type":"nominal","scale":{"domain":["High risk","Low risk"]},"axis":{"title":"Risk","titleFontSize":8,"offset":-66,"domainColor":"#222","domainWidth":1,"tickSize":2.5,"tickColor":"#222","labelFontSize":6.5,"labelPadding":2,"titlePadding":2,"labelColor":{"expr":"datum.value=='High risk'?'#ff0000':'#0000ff'"}}},"text":{"field":"n","type":"quantitative"}}},
{"data":{"name":"one"},"mark":{"type":"rule","color":"#222","strokeWidth":1},"encoding":{"x":{"datum":-0.285},"x2":{"datum":6.3},"y":{"value":13}}}]}
]}
